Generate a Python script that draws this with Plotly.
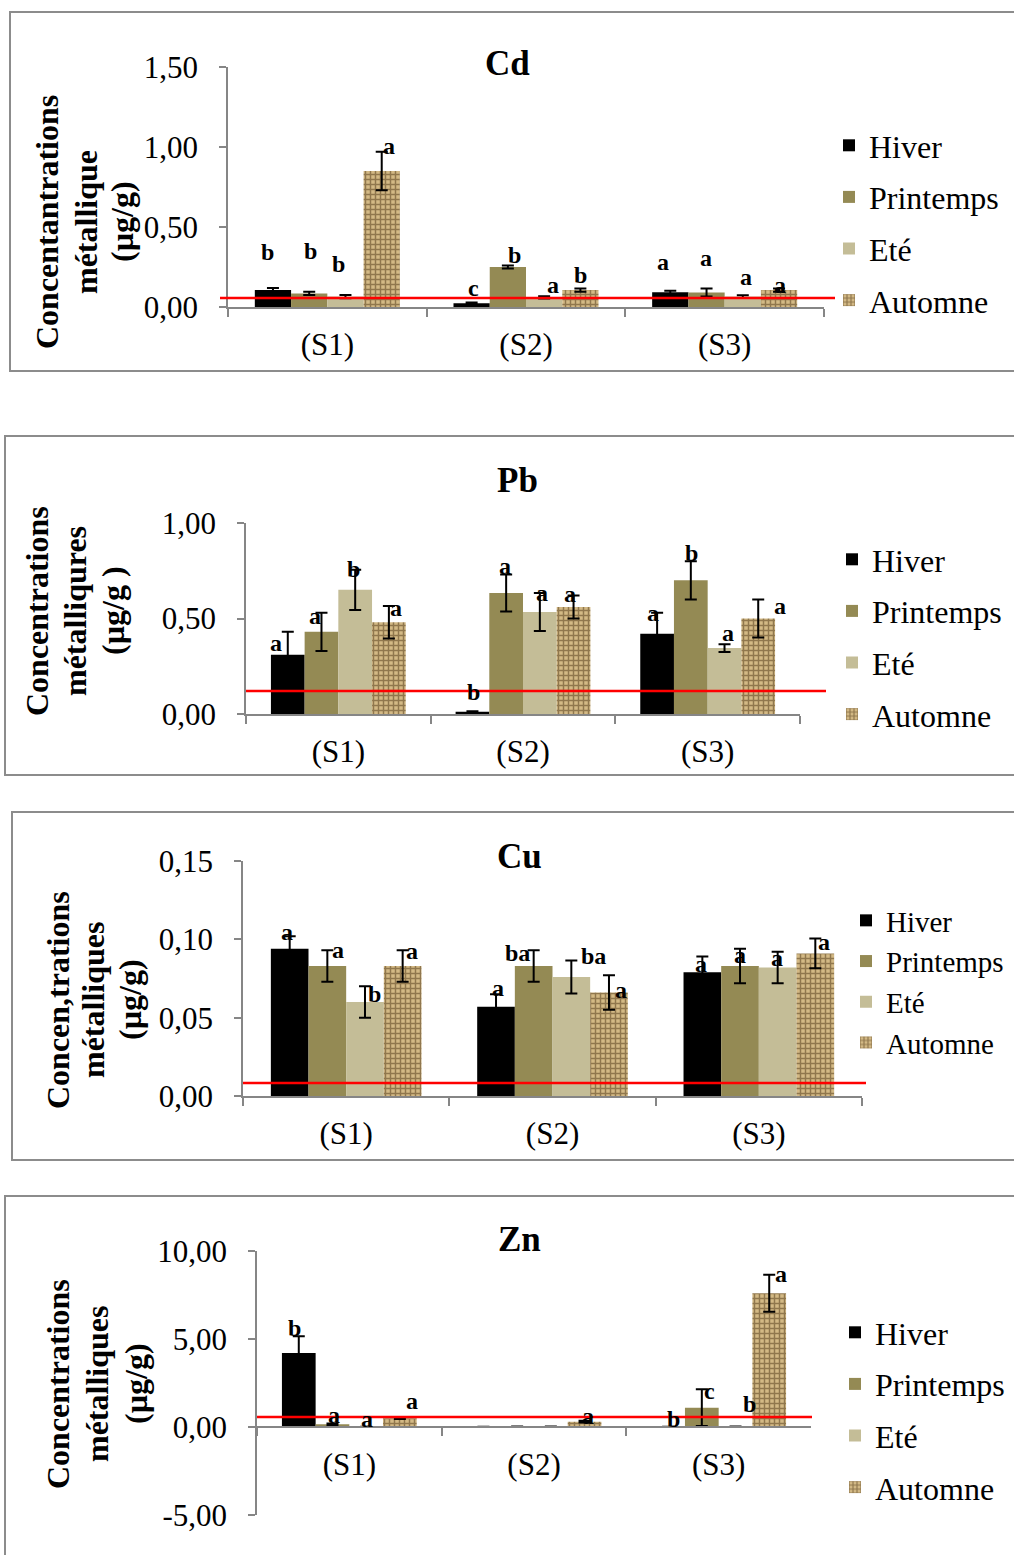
import plotly.graph_objects as go

W, H = 1014, 1555
FONT = "Liberation Serif"

# ---------------- data ----------------
SITES = ["(S1)", "(S2)", "(S3)"]
SEASONS = ["Hiver", "Printemps", "Eté", "Automne"]

# rows: Hiver, Printemps, Eté, Automne ; columns: S1, S2, S3
CD_MEANS = [[0.106, 0.023, 0.092],
            [0.085, 0.250, 0.090],
            [0.065, 0.060, 0.065],
            [0.850, 0.106, 0.106]]
CD_ERRORS = [[0.012, 0.005, 0.010],
             [0.010, 0.010, 0.025],
             [0.010, 0.007, 0.008],
             [0.120, 0.010, 0.010]]
CD_LETTERS = [["b", "c", "a"], ["b", "b", "a"], ["b", "a", "a"], ["a", "b", "a"]]
CD_LIMIT = 0.056
CD_TICKS = [0.0, 0.5, 1.0, 1.5]
CD_YTITLE = ["Concentantrations", "métallique", "(µg/g)"]

PB_MEANS = [[0.310, 0.012, 0.420],
            [0.430, 0.633, 0.700],
            [0.650, 0.534, 0.345],
            [0.480, 0.560, 0.500]]
PB_ERRORS = [[0.120, 0.003, 0.110],
             [0.100, 0.097, 0.100],
             [0.105, 0.100, 0.020],
             [0.085, 0.060, 0.100]]
PB_LETTERS = [["a", "b", "a"], ["a", "a", "b"], ["b", "a", "a"], ["a", "a", "a"]]
PB_LIMIT = 0.12
PB_TICKS = [0.0, 0.5, 1.0]
PB_YTITLE = ["Concentrations", "métalliqures", "(µg/g )"]

CU_MEANS = [[0.094, 0.057, 0.079],
            [0.083, 0.083, 0.083],
            [0.060, 0.076, 0.082],
            [0.083, 0.066, 0.091]]
CU_ERRORS = [[0.008, 0.008, 0.010],
             [0.010, 0.010, 0.011],
             [0.010, 0.0105, 0.010],
             [0.010, 0.011, 0.0095]]
CU_LETTERS = [["a", "a", "a"], ["a", "ba", "a"], ["b", "ba", "a"], ["a", "a", "a"]]
CU_LIMIT = 0.0083
CU_TICKS = [0.0, 0.05, 0.10, 0.15]
CU_YTITLE = ["Concen,trations", "métalliques", "(µg/g)"]

ZN_MEANS = [[4.20, 0.02, 0.01],
            [0.15, 0.03, 1.10],
            [0.02, 0.03, 0.03],
            [0.50, 0.30, 7.60]]
ZN_ERRORS = [[0.95, 0.0, 0.0],
             [0.05, 0.0, 1.05],
             [0.0, 0.0, 0.0],
             [0.05, 0.05, 1.05]]
ZN_LETTERS = [["b", "", "b"], ["a", "", "c"], ["a", "", "b"], ["a", "a", "a"]]
ZN_LIMIT = 0.57
ZN_TICKS = [-5.0, 0.0, 5.0, 10.0]
ZN_YTITLE = ["Concentrations", "métalliques", "(µg/g)"]

# ---------------- styles / layout (pixels) ----------------
BAR_COLORS = ["#000000", "#948a54", "#c4bd97", "#c3a672"]
AXIS_GRAY = "#868686"
BARGAP = 0.27

# letter label pixel offsets (dx, dy up) per season/site
CD_LOFF = [[(-5, 36), (2, 15), (-7, 29)], [(1, 41), (7, 10), (-1, 31)],
           [(-7, 31), (9, 11), (3, 18)], [(7, 6), (0, 13), (1, 3)]]
PB_LOFF = [[(-12, -11), (1, 19), (-4, 0)], [(-6, -3), (-1, 9), (1, 8)],
           [(-2, 1), (2, 0), (3, 11)], [(7, -2), (-4, 2), (22, -7)]]
CU_LOFF = [[(-3, 4), (2, 6), (-1, -7)], [(11, 0), (-16, -3), (0, -6)],
           [(10, -8), (22, 4), (-1, -6)], [(9, -1), (12, -15), (9, -3)]]
ZN_LOFF = [[(-4, 8), (0, 0), (5, 8)], [(2, 8), (0, 0), (8, -2)],
           [(1, 8), (0, 0), (14, 22)], [(12, 16), (3, 5), (12, 1)]]

PANELS = [
    dict(name="Cd", means=CD_MEANS, errs=CD_ERRORS, letters=CD_LETTERS, loff=CD_LOFF,
         limit=CD_LIMIT, ticks=CD_TICKS, ytitle=CD_YTITLE,
         px_x=(228, 824), px_y=(67, 307), box=(10, 12, 371), title=(507, 63),
         red=(220, 835), ytl_x=(47, 86, 122), ytl_y=222, leg=(829, 118), legfs=32, leggap=7,
         zero_px=None),
    dict(name="Pb", means=PB_MEANS, errs=PB_ERRORS, letters=PB_LETTERS, loff=PB_LOFF,
         limit=PB_LIMIT, ticks=PB_TICKS, ytitle=PB_YTITLE,
         px_x=(246, 800), px_y=(523, 714), box=(5, 436, 775), title=(517, 480),
         red=(246, 826), ytl_x=(37, 75, 113), ytl_y=611, leg=(832, 532), legfs=32, leggap=7,
         zero_px=None),
    dict(name="Cu", means=CU_MEANS, errs=CU_ERRORS, letters=CU_LETTERS, loff=CU_LOFF,
         limit=CU_LIMIT, ticks=CU_TICKS, ytitle=CU_YTITLE,
         px_x=(243, 862), px_y=(861, 1096), box=(12, 812, 1160), title=(519, 857),
         red=(243, 866), ytl_x=(58, 93, 130), ytl_y=1000, leg=(846, 895), legfs=29, leggap=0,
         zero_px=None),
    dict(name="Zn", means=ZN_MEANS, errs=ZN_ERRORS, letters=ZN_LETTERS, loff=ZN_LOFF,
         limit=ZN_LIMIT, ticks=ZN_TICKS, ytitle=ZN_YTITLE,
         px_x=(257, 811), px_y=(1251, 1515), box=(5, 1196, 1575), title=(519, 1239),
         red=(257, 812), ytl_x=(58, 97, 136), ytl_y=1384, leg=(835, 1305), legfs=32, leggap=7,
         zero_px=1427),
]


def fx(p):
    return p / W


def fy(p):
    return 1 - p / H


def fmt(v):
    return f"{v:.2f}".replace(".", ",")


fig = go.Figure()
annotations = []
shapes = []
layout = {}

group_w = 1 - BARGAP
bar_w = group_w / len(SEASONS)

for i, P in enumerate(PANELS):
    k = "" if i == 0 else str(i + 1)
    xa, ya = "x" + k, "y" + k
    leg = "legend" + k
    for s, season in enumerate(SEASONS):
        marker = dict(color=BAR_COLORS[s], line=dict(width=0))
        if season == "Automne":
            marker["pattern"] = dict(shape="+", fgcolor="#4e3515", bgcolor="#d3b985",
                                     size=5, solidity=0.5, fillmode="overlay")
        fig.add_trace(go.Bar(
            x=SITES, y=P["means"][s], name=season, marker=marker,
            error_y=dict(type="data", array=P["errs"][s], color="black",
                         thickness=2, width=6),
            xaxis=xa, yaxis=ya, legend=leg, legendgroup=f"{P['name']}-{season}",
            showlegend=True,
        ))
        # significance letters
        for j in range(len(SITES)):
            txt = P["letters"][s][j]
            if not txt:
                continue
            dx, dy = P["loff"][s][j]
            annotations.append(dict(
                x=j - group_w / 2 + bar_w * (s + 0.5), y=P["means"][s][j] + P["errs"][s][j],
                xref=xa, yref=ya, text=txt, showarrow=False, xanchor="center",
                yanchor="middle", xshift=dx, yshift=dy,
                font=dict(family=FONT, size=24, color="black", weight="bold")))

    ticks = P["ticks"]
    ymin, ymax = ticks[0], ticks[-1]
    x0, x1 = P["px_x"]
    ytop, ybot = P["px_y"]
    xaxis = dict(domain=[fx(x0), fx(x1)], anchor=ya, type="category", automargin=False,
                 showline=True, linecolor=AXIS_GRAY, linewidth=1.5,
                 ticks="outside", tickson="boundaries", ticklen=8, tickcolor=AXIS_GRAY,
                 tickwidth=1.5, showgrid=False, zeroline=False,
                 tickfont=dict(family=FONT, size=31, color="black"),
                 ticklabelstandoff=9, fixedrange=True)
    if P["zero_px"] is not None:
        xaxis["anchor"] = "free"
        xaxis["position"] = fy(P["zero_px"])
        xaxis["ticklabelstandoff"] = 10
    yaxis = dict(domain=[fy(ybot), fy(ytop)], anchor=xa, range=[ymin, ymax], automargin=False,
                 showline=True, linecolor=AXIS_GRAY, linewidth=1.5,
                 ticks="outside", ticklen=7, tickcolor=AXIS_GRAY, tickwidth=1.5,
                 tickvals=ticks, ticktext=[fmt(t) for t in ticks],
                 showgrid=False, zeroline=False,
                 tickfont=dict(family=FONT, size=31, color="black"),
                 ticklabelstandoff=15, fixedrange=True)
    layout["xaxis" + k] = xaxis
    layout["yaxis" + k] = yaxis
    layout[leg] = dict(x=fx(P["leg"][0]), y=fy(P["leg"][1]), xanchor="left", yanchor="top",
                       font=dict(family=FONT, size=P["legfs"], color="black"),
                       bgcolor="rgba(0,0,0,0)", borderwidth=0,
                       traceorder="grouped", tracegroupgap=P["leggap"])

    # panel title
    annotations.append(dict(x=fx(P["title"][0]), y=fy(P["title"][1]), xref="paper", yref="paper",
                            text=P["name"], showarrow=False, xanchor="center", yanchor="middle",
                            font=dict(family=FONT, size=35, color="black", weight="bold")))
    # y-axis title (three lines)
    for line, lx in zip(P["ytitle"], P["ytl_x"]):
        annotations.append(dict(x=fx(lx), y=fy(P["ytl_y"]), xref="paper", yref="paper",
                                text=line, textangle=-90, showarrow=False,
                                xanchor="center", yanchor="middle",
                                font=dict(family=FONT, size=32, color="black", weight="bold")))
    # reference (threshold) line
    shapes.append(dict(type="line", xref="paper", yref=ya,
                       x0=fx(P["red"][0]), x1=fx(P["red"][1]), y0=P["limit"], y1=P["limit"],
                       line=dict(color="#ff0000", width=2.5)))
    # panel frame
    bx, by0, by1 = P["box"]
    shapes.append(dict(type="rect", xref="paper", yref="paper",
                       x0=fx(bx), x1=fx(1030), y0=fy(by1), y1=fy(by0),
                       line=dict(color="#8c8c8c", width=2), fillcolor="rgba(0,0,0,0)",
                       layer="below"))

fig.update_layout(
    width=W, height=H, margin=dict(l=0, r=0, t=0, b=0, autoexpand=False),
    paper_bgcolor="white", plot_bgcolor="white",
    barmode="group", bargap=BARGAP, bargroupgap=0,
    annotations=annotations, shapes=shapes,
    font=dict(family=FONT, color="black"),
    **layout,
)

fig.write_html("out.html")
